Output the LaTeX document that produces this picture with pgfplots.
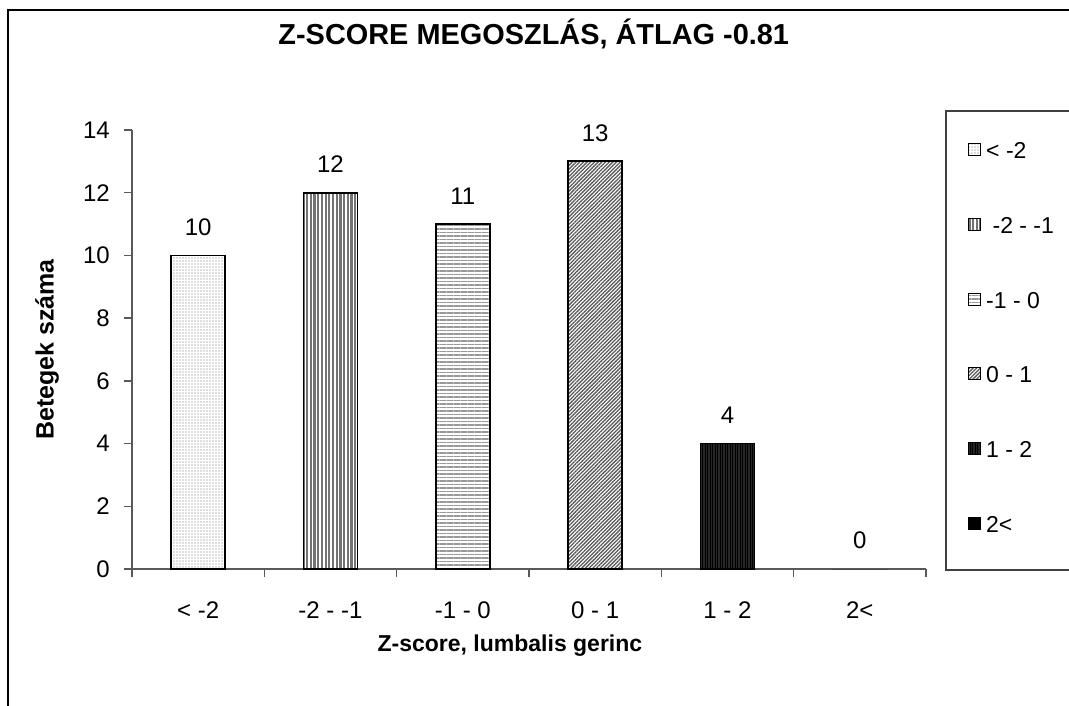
\documentclass[border=0pt]{standalone}
\usepackage{pgfplots}
\pgfplotsset{compat=1.18}
\usepackage{fontspec}
\setmainfont{Liberation Sans}
\usetikzlibrary{patterns.meta}
\begin{document}
\begin{tikzpicture}
\useasboundingbox (0pt,0pt) rectangle (1069pt,705pt);
\clip (0pt,0pt) rectangle (1069pt,705pt);
% chart frame and legend frame
\draw[line width=2pt] (8pt,-20pt) |- (1100pt,695pt);
\draw[line width=1.4pt, black!75] (946pt,135pt) rectangle (1100pt,594pt);
\begin{axis}[
    at={(132pt,136pt)}, anchor=south west,
    scale only axis,
    width=794pt, height=439pt,
    xmin=-0.5, xmax=5.5,
    ymin=0, ymax=14,
    ytick={0,2,...,14},
    xtick={0,...,5},
    xticklabels={< -2, -2 - -1, -1 - 0, 0 - 1, 1 - 2, 2<},
    minor xtick={-0.5,0.5,...,5.5},
    major x tick style={draw=none},
    tick align=outside,
    major tick length=8pt, minor tick length=8pt,
    axis lines*=left,
    axis line style={-, line width=1.4pt, black!65},
    every tick/.style={line width=1.4pt, black!65},
    tick label style={font=\fontsize{24}{28}\selectfont, inner sep=0pt},
    /pgf/number format/assume math mode=true,
    yticklabel style={xshift=-14pt},
    xticklabel style={yshift=-25pt},
    title={Z-SCORE MEGOSZLÁS, ÁTLAG -0.81},
    title style={at={(rel axis cs:0.506,1.205)}, anchor=center, font=\bfseries\fontsize{28.9}{33}\selectfont},
    xlabel={Z-score, lumbalis gerinc},
    ylabel={Betegek száma},
    every axis x label/.style={at={(rel axis cs:0.476,-0.174)}, anchor=center, font=\bfseries\fontsize{23}{27}\selectfont},
    every axis y label/.style={at={(rel axis cs:-0.107,0.5)}, rotate=90, anchor=center, font=\bfseries\fontsize{25}{29}\selectfont},
    ybar, bar width=54pt, bar shift=0pt,
    nodes near coords,
    nodes near coords style={font=\fontsize{24}{28}\selectfont, inner sep=0pt, anchor=south, yshift=19pt},
    every axis plot/.append style={line width=1.8pt},
    legend image code/.code={\draw[#1, line width=1pt] (0pt,-4.5pt) rectangle (12pt,7.5pt);},
    legend style={draw=none, fill=none, inner sep=0pt,
        at={(rel axis cs:1.0529,0.9715)}, anchor=north west,
        font=\fontsize{23}{27}\selectfont,
        nodes={text height=15pt, text depth=0pt, inner sep=0pt},
        row sep=59.4pt, column sep=5pt},
    legend cell align=left,
]
\addplot[draw=black, fill=white, pattern color=black!55,
    pattern={Dots[distance=3pt, radius=0.6pt]}] coordinates {(0,10)};
\addplot[draw=black, fill=white, pattern color=black!55,
    pattern={Lines[angle=90, distance=3.7pt, line width=2.2pt]}] coordinates {(1,12)};
\addplot[draw=black, fill=white, pattern color=black!40,
    pattern={Lines[angle=0, distance=3.5pt, line width=1.6pt]}] coordinates {(2,11)};
\addplot[draw=black, fill=white, pattern color=black!65,
    pattern={Lines[angle=45, distance=2.6pt, line width=1.3pt]}] coordinates {(3,13)};
\addplot[draw=black, fill=black!85, postaction={pattern color=black,
    pattern={Lines[angle=90, distance=2.5pt, line width=1pt]}}] coordinates {(4,4)};
\addplot[draw=none, fill=black] coordinates {(5,0)};
\legend{< -2, {\ -2 - -1}, -1 - 0, 0 - 1, 1 - 2, 2<}
\end{axis}
\end{tikzpicture}
\end{document}
